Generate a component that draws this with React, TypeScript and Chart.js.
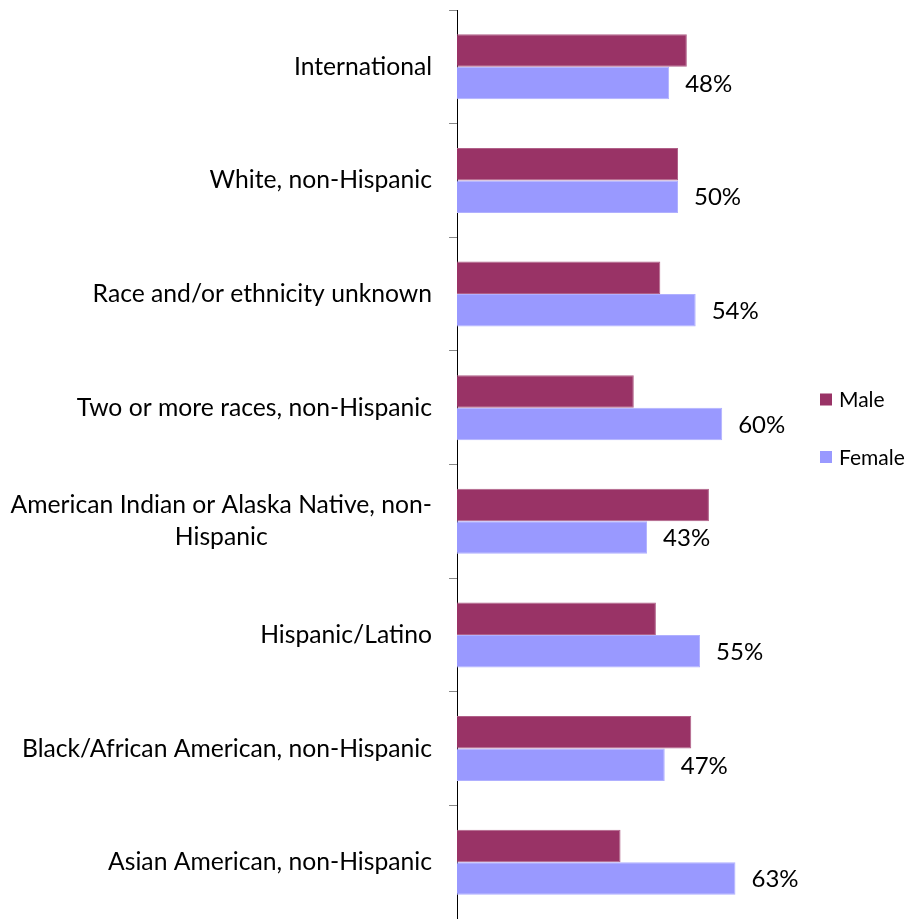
import React, { useEffect, useRef } from 'react';
import { Chart, registerables } from 'chart.js';

Chart.register(...registerables);

const categories: (string | string[])[] = [
  'International',
  'White, non-Hispanic',
  'Race and/or ethnicity unknown',
  'Two or more races, non-Hispanic',
  ['American Indian or Alaska Native, non-', 'Hispanic'],
  'Hispanic/Latino',
  'Black/African American, non-Hispanic',
  'Asian American, non-Hispanic',
];
const maleValues = [52, 50, 46, 40, 57, 45, 53, 37];
const femaleValues = [48, 50, 54, 60, 43, 55, 47, 63];
const seriesNames = ['Male', 'Female'];
const seriesColors = ['#993366', '#9999FF'];
const seriesBorders = ['#B06088', '#B0B0FF'];

const FONT = 'Lato, "Open Sans", sans-serif';

const drawPlugin = {
  id: 'customDraw',
  afterDraw(chart: any) {
    const ctx = chart.ctx;
    const yScale = chart.scales.y;
    ctx.save();
    ctx.fillStyle = '#000';
    ctx.textBaseline = 'middle';
    // category labels
    ctx.font = `24.7px ${FONT}`;
    ctx.textAlign = 'center';
    categories.forEach((c, i) => {
      const lines = Array.isArray(c) ? c : [c];
      const cy = yScale.getPixelForValue(i);
      const widest = Math.max(...lines.map((l) => ctx.measureText(l).width));
      const cx = yScale.right - 25 - widest / 2;
      lines.forEach((l, j) => ctx.fillText(l, cx, cy + (j - (lines.length - 1) / 2) * 32));
    });
    // data labels for female
    ctx.font = `24px ${FONT}`;
    ctx.textAlign = 'left';
    const meta = chart.getDatasetMeta(1);
    meta.data.forEach((bar: any, i: number) => {
      ctx.fillText(femaleValues[i] + '%', bar.x + 16, bar.y + 1);
    });
    // legend
    ctx.font = `21px ${FONT}`;
    const legendY = [399.5, 457];
    seriesNames.forEach((name, i) => {
      ctx.fillStyle = seriesColors[i];
      ctx.fillRect(820, legendY[i] - 6, 12, 12);
      ctx.fillStyle = '#000';
      ctx.fillText(name, 839, legendY[i] + 1);
    });
    ctx.restore();
  },
};

export default function App() {
  const ref = useRef<HTMLCanvasElement>(null);
  useEffect(() => {
    if (!ref.current) return;
    const chart = new Chart(ref.current, {
      type: 'bar',
      data: {
        labels: categories.map((c) => (Array.isArray(c) ? c.join(' ') : c)),
        datasets: [
          {
            label: seriesNames[0],
            data: maleValues,
            backgroundColor: seriesColors[0],
            borderColor: seriesBorders[0],
            borderWidth: 1,
            categoryPercentage: 0.572,
            barPercentage: 1,
          },
          {
            label: seriesNames[1],
            data: femaleValues,
            backgroundColor: seriesColors[1],
            borderColor: seriesBorders[1],
            borderWidth: 1,
            categoryPercentage: 0.572,
            barPercentage: 1,
          },
        ],
      },
      options: {
        indexAxis: 'y',
        animation: false,
        responsive: false,
        maintainAspectRatio: false,
        layout: { padding: { top: 10, right: 9, bottom: 0, left: 0 } },
        plugins: { legend: { display: false }, tooltip: { enabled: false } },
        scales: {
          x: { display: false, min: 0, max: 100 },
          y: {
            offset: true,
            afterFit: (s: any) => {
              s.width = 457;
            },
            ticks: { display: false },
            grid: {
              display: true,
              offset: true,
              drawOnChartArea: false,
              drawTicks: true,
              tickLength: 8,
              color: '#888888',
            },
            border: { display: true, color: '#000000', width: 1 },
          },
        },
      },
      plugins: [drawPlugin],
    });
    return () => chart.destroy();
  }, []);
  return (
    <div style={{ position: 'absolute', left: 0, top: 0, width: 908, height: 919, background: '#fff' }}>
      <canvas ref={ref} width={908} height={919} style={{ display: 'block' }} />
    </div>
  );
}
